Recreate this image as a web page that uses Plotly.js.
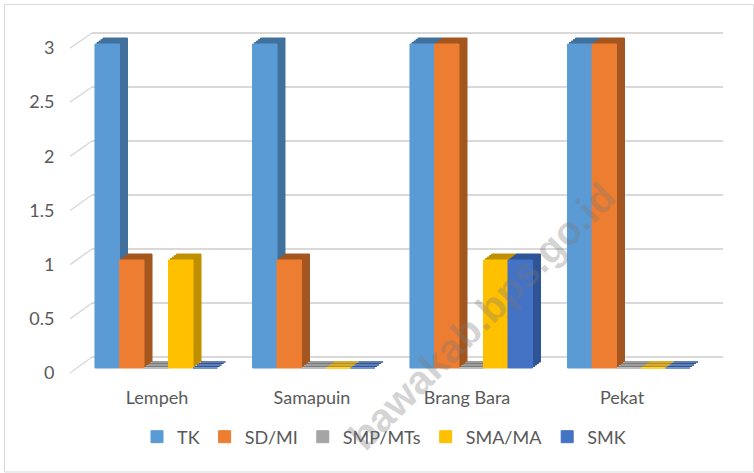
<!DOCTYPE html>
<html>
<head>
<meta charset="utf-8">
<script src="https://cdn.plot.ly/plotly-3.0.1.min.js"></script>
<style>html,body{margin:0;padding:0;background:#fff;}#chart{width:754px;height:473px;}</style>
</head>
<body>
<div id="chart"></div>
<script>
// ---- data ----
const categories = ['Lempeh', 'Samapuin', 'Brang Bara', 'Pekat'];
const seriesNames = ['TK', 'SD/MI', 'SMP/MTs', 'SMA/MA', 'SMK'];
const tk = [3, 3, 3, 3];
const sdmi = [1, 1, 3, 3];
const smpmts = [0, 0, 0, 0];
const smama = [1, 0, 1, 0];
const smk = [0, 0, 1, 0];
const yTickVals = [0, 0.5, 1, 1.5, 2, 2.5, 3];
const watermark = 'bawakab.bps.go.id';

// ---- styles ----
const seriesValues = [tk, sdmi, smpmts, smama, smk];
const frontColors = ['#5b9bd5', '#ed7d31', '#a5a5a5', '#ffc000', '#4472c4'];
const sideColors  = ['#41719c', '#a3561f', '#7c7c7c', '#bf9000', '#2f5597'];
const FONT = 'Lato, "Open Sans", sans-serif';
const TXT = '#595959';

const W = 754, H = 473;
const fx = p => p / W;
const fy = p => 1 - p / H;
const R = [-0.02, 3.02];
function yDom(px0, ppu) { return [fy(px0 - ppu * R[0]), fy(px0 - ppu * R[1])]; }

const layout = {
  width: W, height: H,
  margin: {l: 0, r: 0, t: 0, b: 0},
  paper_bgcolor: '#ffffff',
  plot_bgcolor: 'rgba(0,0,0,0)',
  barmode: 'group', bargap: 0.222, bargroupgap: 0,
  font: {family: FONT, size: 18, color: TXT},
  showlegend: true,
  legend: {orientation: 'h', x: fx(384), xanchor: 'center', y: fy(437), yanchor: 'middle',
           font: {family: FONT, size: 18, color: TXT}, itemwidth: 30, bgcolor: 'rgba(0,0,0,0)',
           traceorder: 'normal'},
  // back wall (gridlines)
  xaxis: {domain: [fx(92), fx(723)], range: [0, 1], visible: true, showgrid: false, showticklabels: false,
          zeroline: false, showline: false, ticks: '', anchor: 'y'},
  yaxis: {domain: yDom(357, 108), range: R, tickmode: 'array', tickvals: yTickVals, showgrid: true,
          gridcolor: '#d9d9d9', gridwidth: 1.5, showticklabels: false, zeroline: false, showline: false,
          ticks: '', anchor: 'x'},
  // label axes
  xaxis7: {domain: [fx(79.5), fx(699.5)], range: [-0.5, 3.5], tickmode: 'array', tickvals: [0, 1, 2, 3],
           ticktext: categories, showgrid: false, zeroline: false, showline: false, ticks: '',
           tickfont: {family: FONT, size: 18, color: TXT}, ticklabelstandoff: 10, anchor: 'y7'},
  yaxis7: {domain: yDom(373, 108.33), range: R, tickmode: 'array', tickvals: yTickVals,
           showgrid: false, zeroline: false, showline: false, ticks: '',
           tickfont: {family: FONT, size: 18, color: TXT}, ticklabelstandoff: 24, anchor: 'x7'},
  shapes: [],
  annotations: [{
    text: watermark, xref: 'paper', yref: 'paper', x: fx(482), y: fy(316),
    xanchor: 'center', yanchor: 'middle', showarrow: false, textangle: -45,
    font: {family: '"Liberation Sans", Arial, sans-serif', size: 40, color: 'rgba(120,120,120,0.33)', weight: 'bold'}
  }]
};

const data = [];
data.push({type: 'scatter', x: [], y: [], xaxis: 'x', yaxis: 'y', showlegend: false, hoverinfo: 'skip'});

// bar layers: deepest first, front (k=0) last
for (let k = 4; k >= 0; k--) {
  const n = 6 - k;
  const dx = 2 * k, dy = 1.5 * k;
  layout['xaxis' + n] = {domain: [fx(77.5 + dx), fx(707.5 + dx)], type: 'category',
                         categoryarray: categories, range: [-0.5, 3.5], visible: false, anchor: 'y' + n};
  layout['yaxis' + n] = {domain: yDom(368 - dy, 108), range: R, visible: false, anchor: 'x' + n};
  for (let i = 0; i < seriesNames.length; i++) {
    const c = k === 0 ? frontColors[i] : sideColors[i];
    data.push({
      type: 'bar', name: seriesNames[i], x: categories, y: seriesValues[i],
      xaxis: 'x' + n, yaxis: 'y' + n,
      marker: {color: c, line: {color: c, width: 1}},
      showlegend: k === 0, legendgroup: seriesNames[i], hoverinfo: 'skip'
    });
  }
}
data.push({type: 'scatter', x: [], y: [], xaxis: 'x7', yaxis: 'y7', showlegend: false, hoverinfo: 'skip'});

// diagonal gridline stubs (front edge to back wall) for each tick
yTickVals.forEach(v => {
  layout.shapes.push({type: 'line', xref: 'paper', yref: 'paper', layer: 'below',
    x0: fx(70), y0: fy(373 - 108.33 * v), x1: fx(92), y1: fy(357 - 108 * v),
    line: {color: '#d9d9d9', width: 1.5}});
});
// chart border
layout.shapes.push({type: 'rect', xref: 'paper', yref: 'paper', layer: 'below',
  x0: fx(4.5), y0: fy(472), x1: fx(753.5), y1: fy(4.5), line: {color: '#d9d9d9', width: 1}});

Plotly.newPlot('chart', data, layout, {displayModeBar: false, staticPlot: true});
</script>
</body>
</html>
